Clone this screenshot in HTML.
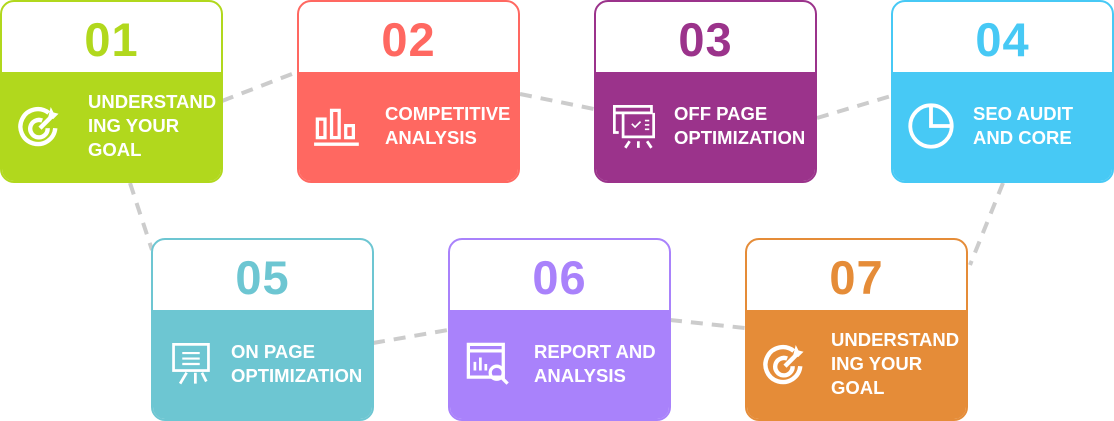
<!DOCTYPE html>
<html><head><meta charset="utf-8"><style>
body{margin:0;width:1114px;height:421px;background:#fff;position:relative;overflow:hidden;font-family:"Liberation Sans",sans-serif}
svg.l{position:absolute;left:0;top:0}
.c{position:absolute;width:223px;height:183px;box-sizing:border-box;border:2px solid;border-radius:14px;overflow:hidden;background:#fff}
.n{height:70px;text-align:center;font-size:47px;font-weight:bold;line-height:76px;letter-spacing:1px}
.b{position:absolute;left:0;right:0;top:70px;bottom:0;color:#fff}
.t{position:absolute;left:84px;font-size:18.5px;font-weight:bold;line-height:24px;white-space:nowrap}
.i{position:absolute;left:14px;width:48px;height:48px}
</style></head><body>
<svg class="l" width="1114" height="421"><g stroke="#cccccc" stroke-width="4" stroke-dasharray="12 9" fill="none">
<line x1="222" y1="101" x2="297" y2="72"/><line x1="520" y1="94" x2="594" y2="109"/><line x1="817" y1="118" x2="891" y2="96"/>
<line x1="130" y1="183" x2="152" y2="250"/><line x1="1003" y1="183" x2="970" y2="265"/>
<line x1="373" y1="343" x2="448" y2="330"/><line x1="670" y1="320" x2="745" y2="328"/></g></svg>

<div class="c" style="left:0;top:0;border-color:#b1d81d"><div class="n" style="color:#b1d81d">01</div><div class="b" style="background:#b1d81d">
<svg class="i" style="top:30px" viewBox="0 0 44 44" fill="none" stroke="#fff" stroke-width="4"><path d="M30 10A16 16 0 1 0 36 24"/><path d="M24 17A8 8 0 1 0 29 24"/><path d="M22 24L34 12" /><path d="M32 6l2 4 4 1-4 4-4-1z" fill="#fff" stroke-width="1"/></svg>
<div class="t" style="left:86px;top:18px">UNDERSTAND<br>ING YOUR<br>GOAL</div></div></div>

<div class="c" style="left:297px;top:0;border-color:#ff6861"><div class="n" style="color:#ff6861">02</div><div class="b" style="background:#ff6861">
<svg class="i" style="top:34px" viewBox="0 0 44 44" fill="none" stroke="#fff" stroke-width="3"><rect x="4" y="12" width="7" height="17"/><rect x="17" y="4" width="7" height="25"/><rect x="30" y="18" width="7" height="11"/><line x1="1" y1="35" x2="42" y2="35"/></svg>
<div class="t" style="left:86px;top:30px">COMPETITIVE<br>ANALYSIS</div></div></div>

<div class="c" style="left:594px;top:0;border-color:#9b338b"><div class="n" style="color:#9b338b">03</div><div class="b" style="background:#9b338b">
<svg class="i" style="top:30px" viewBox="0 0 44 44" fill="none" stroke="#fff" stroke-width="2.5"><path d="M4 4h34v6H4zM4 10v18h4M12 10v22h28V10"/><path d="M20 20l3 3 5-5M32 17h4M32 21h4M32 25h4" stroke-width="1.5"/><path d="M14 42l4-6M26 36v6M34 36l4 6"/></svg>
<div class="t" style="left:78px;top:30px">OFF PAGE<br>OPTIMIZATION</div></div></div>

<div class="c" style="left:891px;top:0;border-color:#47c9f5"><div class="n" style="color:#47c9f5">04</div><div class="b" style="background:#47c9f5">
<svg class="i" style="top:30px" viewBox="0 0 44 44" fill="none" stroke="#fff" stroke-width="3.5"><circle cx="22" cy="22" r="19"/><path d="M22 3v19h19"/></svg>
<div class="t" style="left:80px;top:30px">SEO AUDIT<br>AND CORE</div></div></div>

<div class="c" style="left:151px;top:238px;border-color:#6dc6d2"><div class="n" style="color:#6dc6d2">05</div><div class="b" style="background:#6dc6d2">
<svg class="i" style="top:30px" viewBox="0 0 44 44" fill="none" stroke="#fff" stroke-width="2.5"><rect x="6" y="4" width="32" height="24"/><path d="M14 12h16M14 17h16M14 22h16" stroke-width="2"/><path d="M12 40l6-10M26 30v10M32 30l4 8"/></svg>
<div class="t" style="left:78px;top:30px">ON PAGE<br>OPTIMIZATION</div></div></div>

<div class="c" style="left:448px;top:238px;border-color:#a982fb"><div class="n" style="color:#a982fb">06</div><div class="b" style="background:#a982fb">
<svg class="i" style="top:30px" viewBox="0 0 44 44" fill="none" stroke="#fff" stroke-width="3"><path d="M4 4h32v30H4zM4 10h32"/><path d="M10 28v-8M15 28v-12M20 28v-6" stroke-width="2.5"/><circle cx="30" cy="30" r="6"/><path d="M34 34l6 6"/></svg>
<div class="t" style="left:84px;top:30px">REPORT AND<br>ANALYSIS</div></div></div>

<div class="c" style="left:745px;top:238px;border-color:#e58c38"><div class="n" style="color:#e58c38">07</div><div class="b" style="background:#e58c38">
<svg class="i" style="top:30px" viewBox="0 0 44 44" fill="none" stroke="#fff" stroke-width="4"><path d="M30 10A16 16 0 1 0 36 24"/><path d="M24 17A8 8 0 1 0 29 24"/><path d="M22 24L34 12"/><path d="M32 6l2 4 4 1-4 4-4-1z" fill="#fff" stroke-width="1"/></svg>
<div class="t" style="left:84px;top:18px">UNDERSTAND<br>ING YOUR<br>GOAL</div></div></div>
</body></html>
